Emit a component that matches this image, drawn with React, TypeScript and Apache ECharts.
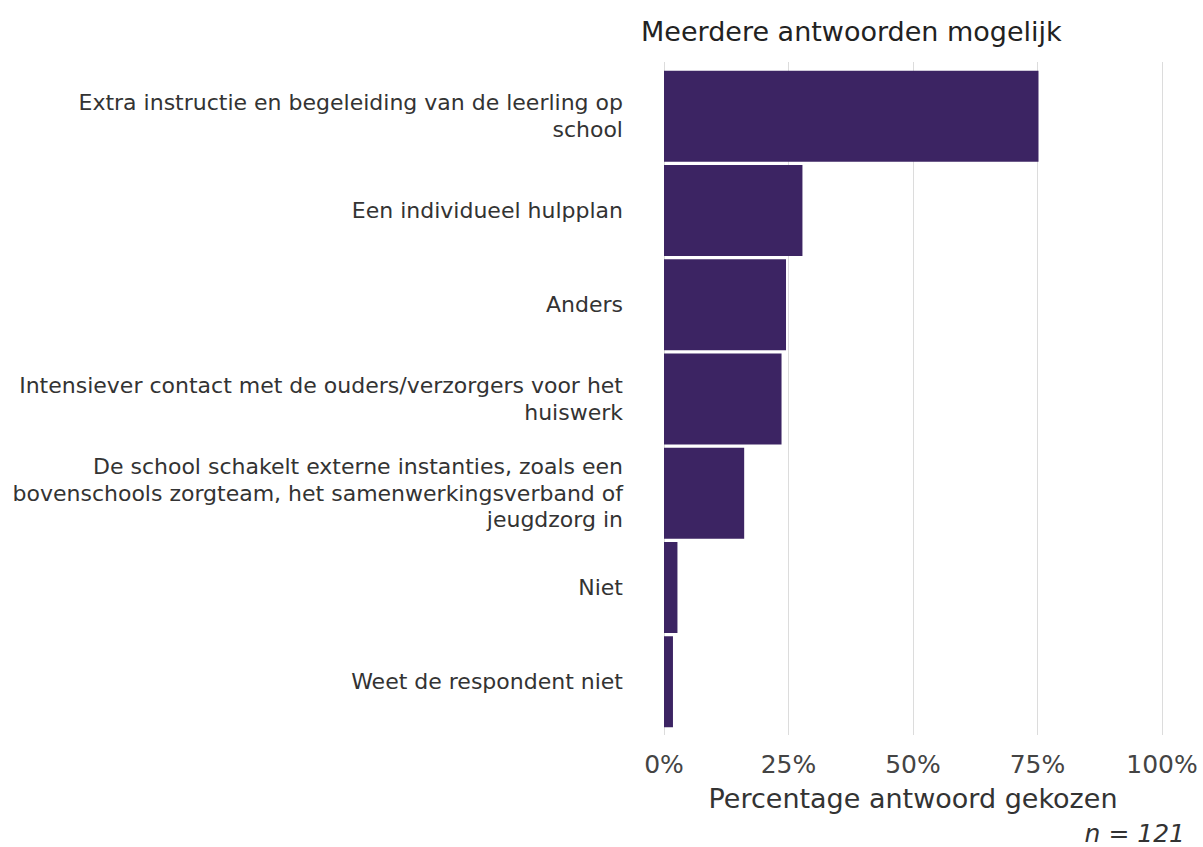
import React, { useEffect, useRef } from "react";
import * as echarts from "echarts";

const categories: string[] = [
  "Extra instructie en begeleiding van de leerling op\nschool",
  "Een individueel hulpplan",
  "Anders",
  "Intensiever contact met de ouders/verzorgers voor het\nhuiswerk",
  "De school schakelt externe instanties, zoals een\nbovenschools zorgteam, het samenwerkingsverband of\njeugdzorg in",
  "Niet",
  "Weet de respondent niet",
];
const percentages: number[] = [75.2, 27.8, 24.5, 23.6, 16.1, 2.7, 1.8];
const xTicks: number[] = [0, 25, 50, 75, 100];
const titleText = "Meerdere antwoorden mogelijk";
const axisTitle = "Percentage antwoord gekozen";
const nText = "n = 121";

const FONT = "DejaVu Sans, Verdana, sans-serif";

export default function App() {
  const ref = useRef<HTMLDivElement>(null);
  useEffect(() => {
    document.body.style.margin = "0";
    if (!ref.current) return;
    const chart = echarts.init(ref.current, null, { renderer: "svg" });
    const gl = 664;
    const gw = 498;
    chart.setOption({
      animation: false,
      backgroundColor: "#ffffff",
      textStyle: { fontFamily: FONT },
      grid: [
        { left: gl, width: gw, top: 62, height: 673 },
        { left: gl, width: gw, top: 69, height: 660 },
      ],
      xAxis: [
        {
          gridIndex: 0,
          type: "value",
          min: xTicks[0],
          max: xTicks[xTicks.length - 1],
          interval: 25,
          axisLine: { show: false },
          axisTick: { show: false },
          splitLine: { show: true, lineStyle: { color: "#dcdcdc", width: 1 } },
          axisLabel: {
            formatter: "{value}%",
            fontSize: 25,
            color: "#444",
            margin: 17,
            fontFamily: FONT,
          },
          name: axisTitle,
          nameLocation: "middle",
          nameGap: 50,
          nameTextStyle: { fontSize: 27, color: "#333", fontFamily: FONT },
        },
        {
          gridIndex: 1,
          type: "value",
          min: 0,
          max: 100,
          show: false,
        },
      ],
      yAxis: [
        { gridIndex: 0, type: "category", data: [""], show: false },
        {
          gridIndex: 1,
          type: "category",
          inverse: true,
          data: categories,
          axisLine: { show: false },
          axisTick: { show: false },
          axisLabel: {
            fontSize: 22,
            color: "#333",
            margin: 41,
            align: "right",
            lineHeight: 26.5,
            fontFamily: FONT,
          },
        },
      ],
      series: [
        {
          type: "bar",
          xAxisIndex: 0,
          yAxisIndex: 0,
          data: [],
        },
        {
          type: "bar",
          xAxisIndex: 1,
          yAxisIndex: 1,
          data: percentages,
          barCategoryGap: "3.5%",
          itemStyle: { color: "#3c2463" },
        },
      ],
      graphic: [
        {
          type: "text",
          left: 641,
          top: 18,
          style: {
            text: titleText,
            fontSize: 27,
            fill: "#222",
            fontFamily: FONT,
          },
        },
        {
          type: "text",
          right: 18,
          top: 821,
          style: {
            text: nText,
            fontSize: 25,
            fontStyle: "italic",
            fill: "#333",
            fontFamily: FONT,
          },
        },
      ],
    });
    return () => chart.dispose();
  }, []);
  return <div ref={ref} style={{ width: 1203, height: 847 }} />;
}
